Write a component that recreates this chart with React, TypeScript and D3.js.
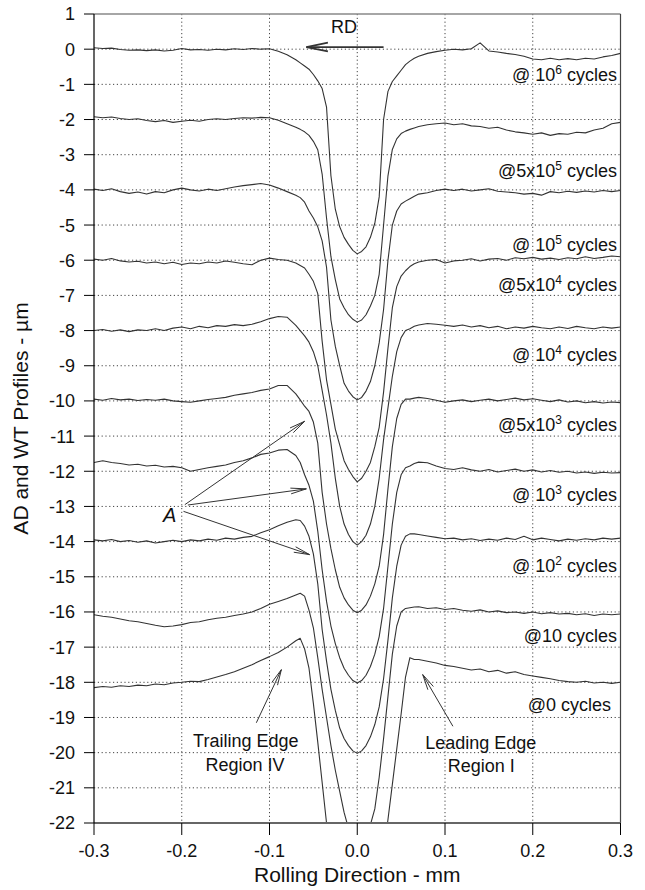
import React from "react";
import * as d3 from "d3";

// x positions shared by every profile (mm)
const GRID_X = [
  -0.3, -0.29, -0.28, -0.27, -0.26, -0.25, -0.24, -0.23, -0.22, -0.21, -0.2, -0.19,
  -0.18, -0.17, -0.16, -0.15, -0.14, -0.13, -0.12, -0.11, -0.1, -0.09, -0.08, -0.07,
  -0.065, -0.06, -0.055, -0.05, -0.045, -0.04, -0.035, -0.03, -0.025, -0.02, -0.015, -0.01, -0.005,
  0, 0.005, 0.01, 0.015, 0.02, 0.025, 0.03, 0.035, 0.04, 0.045, 0.05, 0.055, 0.06, 0.065,
  0.07, 0.08, 0.09, 0.1, 0.11, 0.12, 0.13, 0.14, 0.15, 0.16, 0.17, 0.18,
  0.19, 0.2, 0.21, 0.22, 0.23, 0.24, 0.25, 0.26, 0.27, 0.28, 0.29, 0.3,
];

// profile heights (µm), one array per cycle count
const P_1E6 = [
  0.04, 0.02, 0.03, -0.01, -0.03, -0.02, -0.04, -0.02, -0.05, -0.03, 0.02, -0.02, -0.01, -0.03, 0.0, -0.02, 0.01, -0.01, 0.02, 0.0, 0.01, -0.06, -0.16, -0.3,
  -0.39, -0.48, -0.57, -0.72, -0.9, -1.12, -1.65, -3.6, -4.55, -5.05, -5.35, -5.55, -5.72, -5.82, -5.75, -5.62, -5.35, -4.95, -4.2, -2.0, -1.2, -0.92, -0.76, -0.6, -0.44, -0.34, -0.26,
  -0.2, -0.12, -0.07, -0.03, 0.0, -0.02, 0.01, 0.18, -0.05, -0.08, -0.12, -0.15, -0.2, -0.28, -0.3, -0.26, -0.3, -0.27, -0.3, -0.26, -0.28, -0.22, -0.18, -0.12,
];
const P_5E5 = [
  -1.92, -1.95, -1.93, -1.97, -2.0, -1.98, -2.03, -2.06, -2.03, -2.08, -2.05, -2.02, -2.05, -2.0, -1.98, -2.0, -1.97, -1.95, -1.96, -1.94, -1.95, -2.02, -2.12, -2.22,
  -2.28, -2.35, -2.45, -2.62, -2.86, -3.55, -4.8, -5.9, -6.55, -7.1, -7.35, -7.55, -7.68, -7.76, -7.7, -7.55, -7.3, -7.0, -6.4, -5.0, -3.6, -2.85, -2.55, -2.4, -2.33, -2.28, -2.24,
  -2.2, -2.15, -2.12, -2.1, -2.15, -2.12, -2.18, -2.2, -2.25, -2.22, -2.3, -2.35, -2.38, -2.42, -2.38, -2.45, -2.4, -2.42, -2.36, -2.38, -2.3, -2.25, -2.12, -2.08,
];
const P_1E5 = [
  -3.98, -4.02, -3.97, -4.05, -4.1, -4.06, -4.12, -4.05, -4.08, -4.0, -3.95, -4.0, -4.03, -3.98, -4.02, -3.97, -3.92, -3.88, -3.85, -3.82, -3.86, -3.95, -4.05, -4.15,
  -4.22, -4.35, -4.6, -4.8, -5.05, -5.45, -6.2, -7.7, -8.45, -9.0, -9.5, -9.72, -9.88, -9.97, -9.9, -9.72, -9.45, -9.0, -8.35, -7.4, -6.0, -5.0, -4.6, -4.4, -4.32, -4.25, -4.18,
  -4.12, -4.08, -4.02, -3.98, -4.02, -3.98, -4.03, -4.0, -3.97, -4.04, -4.06, -4.08, -4.12, -4.1, -4.15, -4.05, -4.08, -4.04, -4.07, -4.03, -4.06, -4.02, -4.05, -4.02,
];
const P_5E4 = [
  -5.97, -6.0, -5.95, -6.02, -6.05, -6.03, -6.08, -6.05, -6.1, -6.06, -6.12, -6.08, -6.1, -6.05, -6.08, -6.02, -6.06, -6.1, -6.13, -6.0, -5.94, -5.98, -6.0, -6.08,
  -6.15, -6.22, -6.4, -6.6, -6.95, -8.3, -9.4, -10.1, -10.8, -11.25, -11.7, -11.95, -12.15, -12.3, -12.2, -12.0, -11.75, -11.3, -10.75, -9.75, -8.5, -7.35, -6.75, -6.45, -6.3, -6.18, -6.1,
  -6.05, -6.0, -5.98, -6.08, -6.02, -6.0, -5.96, -6.02, -5.97, -5.95, -6.0, -5.93, -5.96, -5.92, -5.97, -5.94, -5.98, -5.93, -5.96, -5.9, -5.95, -5.92, -5.88, -5.9,
];
const P_1E4 = [
  -8.0, -7.97, -8.02, -7.98, -8.03, -7.98, -8.0, -7.95, -8.0, -7.93, -7.9, -7.95, -7.88, -7.92, -7.86, -7.88, -7.83, -7.86, -7.82, -7.75, -7.66, -7.6, -7.62, -7.85,
  -8.0, -8.15, -8.33, -8.6, -9.0, -9.7, -10.4, -11.2, -12.2, -13.0, -13.5, -13.8, -14.0, -14.1, -14.0, -13.82, -13.5, -13.0, -12.2, -11.1, -10.2, -9.3, -8.6, -8.2, -8.0, -7.95, -7.88,
  -7.84, -7.8, -7.82, -7.85, -7.88, -7.84, -7.9, -7.86, -7.92, -7.88, -7.95, -7.9, -7.93, -7.88, -7.92, -7.95, -7.9, -7.94, -7.88, -7.92, -7.95, -7.9, -7.93, -7.9,
];
const P_5E3 = [
  -9.95, -9.98, -9.93, -9.97, -9.95, -9.99, -9.96, -9.98, -9.95, -10.0, -10.02, -10.04, -10.0, -9.96, -9.93, -9.9, -9.84, -9.8, -9.76, -9.7, -9.66, -9.56, -9.56, -9.8,
  -9.97, -10.15, -10.3, -10.6, -11.2, -12.6, -13.5, -14.2, -14.8, -15.3, -15.6, -15.8, -15.95, -16.02, -15.95, -15.8, -15.55, -15.2, -14.7, -13.8, -12.5, -11.3, -10.5, -10.1, -9.95, -9.95, -9.92,
  -9.9, -9.93, -9.98, -10.04, -10.0, -9.97, -10.02, -9.98, -9.95, -10.0, -9.96, -9.92, -9.97, -9.94, -9.98, -10.02, -9.97, -10.03, -10.0, -10.05, -10.02, -10.06, -10.03, -10.05,
];
const P_1E3 = [
  -11.75, -11.7, -11.75, -11.78, -11.82, -11.8, -11.85, -11.83, -11.88, -11.86, -11.9, -12.0, -11.95, -11.9, -11.86, -11.82, -11.75, -11.7, -11.62, -11.52, -11.48, -11.4, -11.38, -11.55,
  -11.75, -12.1, -12.4, -12.85, -13.7, -14.8, -15.7, -16.4, -16.9, -17.3, -17.6, -17.8, -17.95, -18.02, -17.95, -17.8, -17.55, -17.2, -16.7, -15.9, -14.7, -13.5, -12.6, -12.1, -11.9, -11.85, -11.78,
  -11.74, -11.76, -11.85, -11.92, -11.95, -11.9, -11.96, -12.0, -11.95, -12.02, -11.98, -11.94, -12.0, -11.96, -12.02, -11.98, -12.03, -12.0, -12.05, -12.02, -12.06, -12.03, -12.05, -12.04,
];
const P_1E2 = [
  -13.95, -13.98, -13.94, -14.0, -13.97, -14.02, -13.98, -14.04, -14.0, -13.96, -14.0, -13.95, -13.98, -13.93, -13.96, -13.9, -13.93, -13.88, -13.85, -13.75, -13.66, -13.55, -13.45, -13.38,
  -13.4, -13.56, -13.85, -14.35, -15.2, -16.5, -17.4, -18.2, -18.8, -19.3, -19.6, -19.8, -19.95, -20.02, -19.95, -19.8, -19.55, -19.2, -18.7, -17.9, -16.8, -15.6, -14.7, -14.1, -13.85, -13.78, -13.78,
  -13.8, -13.84, -13.88, -13.92, -13.9, -13.95, -13.92, -13.97, -13.93, -13.96, -13.9, -13.94, -13.85, -13.95, -13.9, -13.94, -13.98, -13.93, -13.96, -13.92, -13.95, -13.9, -13.93, -13.9,
];
const P_10 = [
  -16.08, -16.12, -16.15, -16.2, -16.25, -16.28, -16.33, -16.38, -16.42, -16.4, -16.36, -16.3, -16.28, -16.22, -16.18, -16.15, -16.1, -16.06, -16.0, -15.9, -15.78, -15.7, -15.62, -15.52,
  -15.47, -15.55, -15.95, -16.45, -17.3, -18.2, -19.0, -19.8, -20.5, -21.1, -21.7, -22.15, -22.35, -22.45, -22.35, -22.2, -22.05, -21.6, -20.7, -19.6, -18.4, -17.2, -16.4, -16.0, -15.9, -15.88, -15.86,
  -15.85, -15.9, -15.88, -15.93, -15.9, -15.95, -15.98, -15.94, -16.0, -15.97, -16.02, -16.0, -16.04, -16.0, -16.05, -16.02, -16.06, -16.04, -16.08, -16.05, -16.1, -16.06, -16.08, -16.06,
];
const P_0 = [
  -18.15, -18.12, -18.14, -18.1, -18.12, -18.08, -18.1, -18.05, -18.07, -18.02, -18.0, -17.97, -17.98, -17.92, -17.85, -17.78, -17.7, -17.6, -17.5, -17.38, -17.27, -17.15, -17.0, -16.82,
  -16.75, -17.05, -17.6, -18.6, -19.7, -20.85, -22.0, -23.0, -23.8, -24.3, -24.6, -24.8, -24.9, -25.0, -24.9, -24.8, -24.6, -24.2, -23.5, -22.9, -21.9, -20.9, -19.9, -18.9, -17.85, -17.3, -17.35,
  -17.35, -17.4, -17.45, -17.52, -17.55, -17.6, -17.65, -17.62, -17.7, -17.66, -17.74, -17.7, -17.78, -17.82, -17.86, -17.9, -17.95, -17.98, -18.0, -17.97, -18.02, -18.0, -18.03, -18.0,
];
const PROFILES = [P_1E6, P_5E5, P_1E5, P_5E4, P_1E4, P_5E3, P_1E3, P_1E2, P_10, P_0];

const LABEL_BASE = ["@ 10", "@5x10", "@ 10", "@5x10", "@ 10", "@5x10", "@ 10", "@ 10", "@10", "@0"];
const LABEL_SUP = ["6", "5", "5", "4", "4", "3", "3", "2", "", ""];
const LABEL_LEVEL = [-0.73, -3.46, -5.56, -6.7, -8.69, -10.67, -12.66, -14.68, -16.67, -18.63];

const Y_TICKS = [1, 0, -1, -2, -3, -4, -5, -6, -7, -8, -9, -10, -11, -12, -13, -14, -15, -16, -17, -18, -19, -20, -21, -22];
const X_TICKS = [-0.3, -0.2, -0.1, 0.0, 0.1, 0.2, 0.3];

const W = 645;
const H = 890;
const FONT = "'Liberation Sans', Arial, Helvetica, sans-serif";

const Arrow = ({ x1, y1, x2, y2, len = 12, spread = 0.28, width = 1 }) => {
  const a = Math.atan2(y2 - y1, x2 - x1);
  const b1 = [x2 - len * Math.cos(a - spread), y2 - len * Math.sin(a - spread)];
  const b2 = [x2 - len * Math.cos(a + spread), y2 - len * Math.sin(a + spread)];
  return (
    <g stroke="#333" strokeWidth={width} fill="none">
      <line x1={x1} y1={y1} x2={x2} y2={y2} />
      <polyline points={`${b1[0]},${b1[1]} ${x2},${y2} ${b2[0]},${b2[1]}`} />
    </g>
  );
};

export default function App() {
  const x = d3.scaleLinear().domain([-0.3, 0.3]).range([94, 620.5]);
  const y = d3.scaleLinear().domain([1, -22]).range([14, 823]);
  const [x0, x1] = x.range();
  const [y0, y1] = y.range();

  const line = d3
    .line<number>()
    .x((_, i) => x(GRID_X[i]))
    .y((d) => y(d));

  return (
    <div style={{ position: "absolute", left: 0, top: 0 }}>
      <svg width={W} height={H} style={{ display: "block", background: "#fff" }} fontFamily={FONT}>
        <defs>
          <clipPath id="plot">
            <rect x={x0} y={y0} width={x1 - x0} height={y1 - y0} />
          </clipPath>
        </defs>

        {/* dotted grid */}
        <g stroke="#444" strokeWidth={1} strokeDasharray="1.2,2.6">
          {Y_TICKS.filter((t) => t < 1 && t > -22).map((t) => (
            <line key={"h" + t} x1={x0} x2={x1} y1={y(t)} y2={y(t)} />
          ))}
          {X_TICKS.filter((t) => t > -0.3 && t < 0.3).map((t) => (
            <line key={"v" + t} x1={x(t)} x2={x(t)} y1={y0} y2={y1} />
          ))}
        </g>

        {/* profiles */}
        <g clipPath="url(#plot)" fill="none" stroke="#333" strokeWidth={1.1} strokeLinejoin="round">
          {PROFILES.map((p, i) => (
            <path key={i} d={line(p) || ""} />
          ))}
        </g>

        {/* frame */}
        <line x1={x0} x2={x1} y1={y0} y2={y0} stroke="#888" strokeWidth={1.5} />
        <line x1={x1} x2={x1} y1={y0} y2={y1} stroke="#444" strokeWidth={1.2} />
        <line x1={x0} x2={x1} y1={y1} y2={y1} stroke="#666" strokeWidth={2} />
        <line x1={x0} x2={x0} y1={y0} y2={y1} stroke="#000" strokeWidth={1.2} />

        {/* y axis */}
        <g fontSize={18} fill="#111" textAnchor="end">
          {Y_TICKS.map((t) => (
            <g key={"yt" + t}>
              <line x1={x0 - 10} x2={x0} y1={y(t)} y2={y(t)} stroke="#000" strokeWidth={1} />
              <text x={75} y={y(t)} dy="0.36em">
                {t}
              </text>
            </g>
          ))}
        </g>

        {/* x axis */}
        <g fontSize={18} fill="#111" textAnchor="middle">
          {X_TICKS.map((t) => (
            <g key={"xt" + t}>
              <line x1={x(t)} x2={x(t)} y1={y1} y2={y1 + 12} stroke="#000" strokeWidth={1} />
              <text x={x(t)} y={857}>
                {t.toFixed(1)}
              </text>
            </g>
          ))}
        </g>

        <text x={x(0)} y={882} fontSize={21} textAnchor="middle" fill="#111">
          Rolling Direction - mm
        </text>
        <text
          transform={`translate(28,${(y0 + y1) / 2}) rotate(-90)`}
          fontSize={21}
          textAnchor="middle"
          fill="#111"
        >
          AD and WT Profiles - µm
        </text>

        {/* cycle labels */}
        <g fontSize={18} fill="#111" textAnchor="end">
          {LABEL_BASE.map((b, i) => (
            <text key={"lb" + i} x={i === 9 ? 611 : 617} y={y(LABEL_LEVEL[i])} dy="0.36em">
              {b}
              {LABEL_SUP[i] && (
                <tspan fontSize={12} dy="-0.62em">
                  {LABEL_SUP[i]}
                </tspan>
              )}
              <tspan dy={LABEL_SUP[i] ? "0.42em" : 0}> cycles</tspan>
            </text>
          ))}
        </g>

        {/* RD arrow */}
        <text x={x(-0.015)} y={y(0.64)} dy="0.36em" fontSize={18} textAnchor="middle" fill="#111">
          RD
        </text>
        <Arrow x1={x(0.03)} y1={y(0.06)} x2={x(-0.058)} y2={y(0.06)} len={22} spread={0.2} width={1.8} />

        {/* A arrows */}
        <Arrow x1={x(-0.1965)} y1={y(-12.95)} x2={x(-0.06)} y2={y(-10.58)} len={16} spread={0.18} />
        <Arrow x1={x(-0.193)} y1={y(-12.96)} x2={x(-0.058)} y2={y(-12.5)} len={16} spread={0.18} />
        <Arrow x1={x(-0.198)} y1={y(-13.14)} x2={x(-0.0543)} y2={y(-14.37)} len={16} spread={0.18} />
        <text x={x(-0.2215)} y={y(-13.43)} fontSize={20} fontStyle="italic" fill="#111">
          A
        </text>

        {/* edge annotations */}
        <Arrow x1={x(-0.115)} y1={y(-19.15)} x2={x(-0.0865)} y2={y(-17.64)} len={16} spread={0.2} />
        <Arrow x1={x(0.109)} y1={y(-19.25)} x2={x(0.0746)} y2={y(-17.78)} len={16} spread={0.2} />
        <g fontSize={18} fill="#111" textAnchor="middle">
          <text x={x(-0.127)} y={y(-19.85)}>Trailing Edge</text>
          <text x={x(-0.128)} y={y(-20.53)}>Region IV</text>
          <text x={x(0.1408)} y={y(-19.9)}>Leading Edge</text>
          <text x={x(0.1414)} y={y(-20.56)}>Region I</text>
        </g>
      </svg>
    </div>
  );
}
